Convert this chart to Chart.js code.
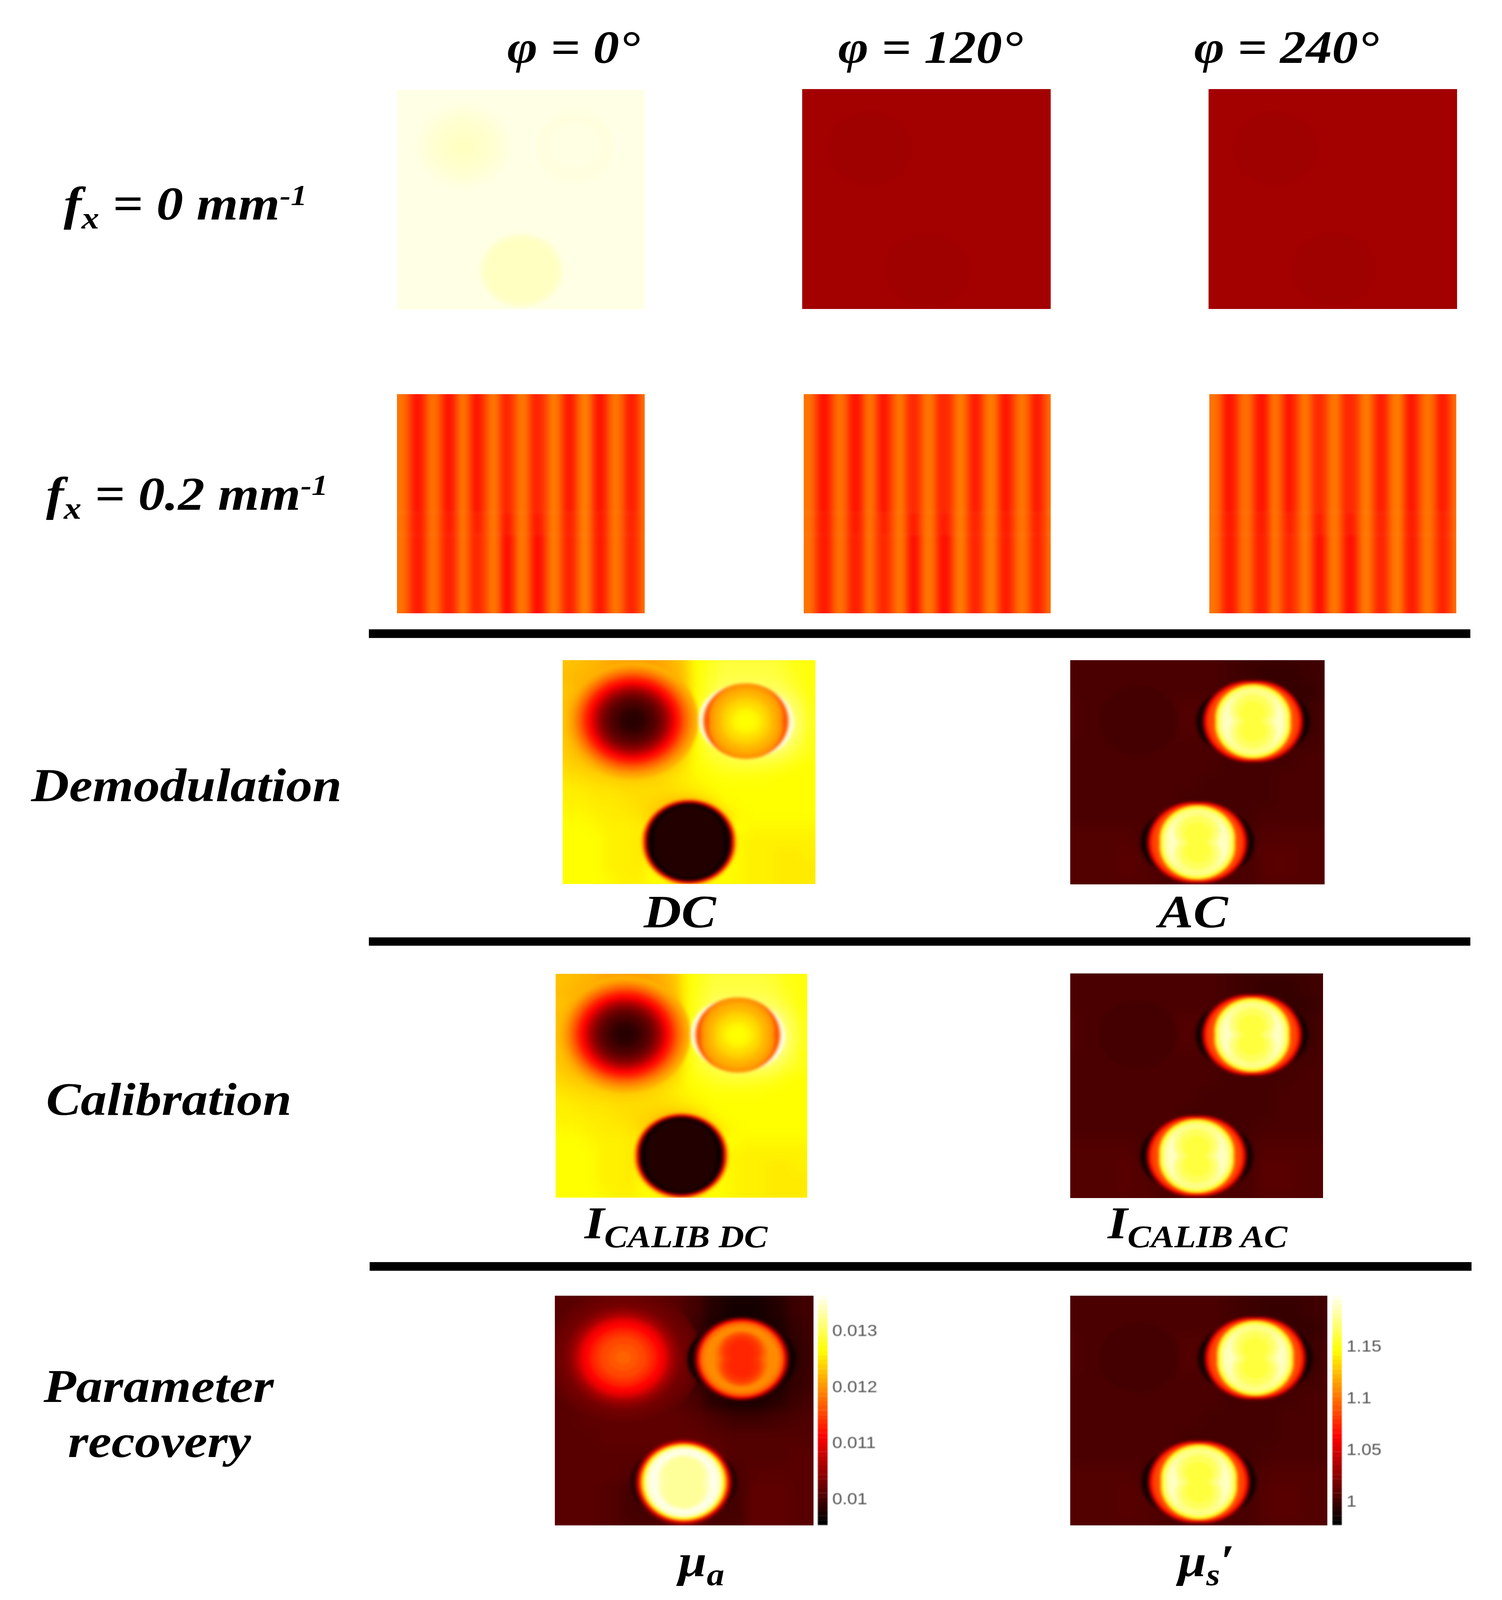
<!DOCTYPE html>
<html>
<head>
<meta charset="utf-8">
<title>SFDI processing steps</title>
<script src="https://cdn.jsdelivr.net/npm/chart.js@4"></script>
<style>
  html, body { margin: 0; background: #fff; overflow: hidden; }
  #page { position: relative; width: 3844px; height: 4612px; overflow: hidden; background: #fff; transform-origin: 0 0; }
  .panel { position: absolute; overflow: hidden; }
  .panel canvas, .bar canvas { position: absolute; }
  .bar { position: absolute; }
  .rule { position: absolute; background: #000; }
  .lab { position: absolute; line-height: 0; white-space: nowrap; color: #000;
         font-family: "Liberation Serif", serif; font-weight: bold; font-style: italic; }
  .lab span { position: relative; }
</style>
</head>
<body>
<div id="page"></div>
<script>
// ── Values. Levels are 0-100 along the hot colormap ──

// Fringe images: one level per column, upper, middle and lower part of the image
const fringeUpper = [52,53,55,54,51,46,41,40,43,48,53,54,52,47,42,40,42,48,54,54,50,44,40,42,46,51,55,54,49,44,43,45,49,54,55,53,47,43,43,44,48,53,56,54,49,43,41,43,49,54,56,54,48,42,40,43,48,53,55,53,49,43,41,43,48,53,55,55];
const fringeMiddle = [52,53,55,54,51,46,42,41,43,48,53,54,52,47,43,41,43,48,54,54,50,45,42,43,47,51,55,54,49,43,41,44,49,54,55,53,47,42,41,43,48,53,56,54,49,44,42,44,49,54,56,54,48,43,41,43,48,53,55,53,49,44,42,44,48,53,55,55];
const fringeLower = [52,53,55,54,51,46,42,41,43,48,53,54,52,47,43,42,43,48,54,54,50,45,43,44,47,51,55,54,49,42,39,42,48,54,55,53,47,41,39,41,47,53,56,54,49,44,42,44,49,54,56,54,48,43,41,43,48,53,55,53,49,44,42,44,48,53,55,55];

// Background fields behind the discs, one row per list
const dcField = [
  [66,66,65,64,63,62,62,62,63,67,75,78,80,80,80,80,79,77,76,76],
  [66,66,65,64,62,61,61,61,63,66,75,78,81,81,81,81,80,77,76,76],
  [66,65,64,63,60,58,58,60,62,65,75,79,82,82,82,82,81,78,76,76],
  [67,66,64,60,56,54,54,56,58,63,75,80,85,85,85,85,84,80,76,76],
  [67,65,62,58,52,50,50,52,56,62,75,82,88,85,85,85,90,84,77,76],
  [68,65,62,56,50,50,50,50,55,62,76,85,88,85,85,85,90,86,78,76],
  [68,65,62,56,50,50,50,50,55,62,76,85,88,85,85,85,90,87,78,76],
  [68,66,62,58,52,50,50,52,56,63,75,82,86,85,85,85,90,84,77,76],
  [69,67,64,60,56,54,54,56,60,66,75,80,82,84,85,86,84,80,77,76],
  [70,69,67,65,63,62,62,63,66,70,75,77,79,80,80,79,78,76,75,75],
  [72,71,70,69,68,67,67,68,70,72,74,75,76,76,76,76,75,75,75,75],
  [73,73,72,71,71,70,70,70,70,71,72,74,75,75,75,75,75,75,75,75],
  [74,73,73,72,72,71,70,69,67,65,66,70,74,75,75,75,75,75,75,75],
  [75,74,74,73,72,72,71,68,62,58,58,62,70,74,75,75,75,75,75,75],
  [75,75,75,74,73,73,72,76,70,62,62,70,76,75,74,74,74,74,74,74],
  [75,75,75,75,73,73,72,76,72,64,64,72,76,74,73,73,73,73,73,73],
  [75,75,75,75,73,73,72,76,72,64,64,72,76,74,73,73,72,72,73,73],
  [75,75,75,75,73,73,72,76,72,64,64,72,76,74,73,73,72,72,72,72],
  [75,75,75,75,74,73,73,75,74,66,66,74,75,74,73,73,72,72,72,72],
  [75,75,75,75,74,73,73,75,74,66,66,74,75,74,73,73,72,72,72,72],
];
const acField = [
  [11,11,11,11,11,11,11,11,10,9,9,9,9,10],
  [11,11,11,11,11,11,11,11,10,9,8,8,9,10],
  [11,11,11,11,11,11,11,11,10,9,9,8,8,10],
  [12,11,11,11,11,11,12,12,10,11,11,9,9,11],
  [12,11,11,11,11,11,12,12,10,11,11,9,9,11],
  [11,11,11,11,11,11,11,11,10,10,10,10,10,11],
  [11,11,11,11,11,11,11,11,10,10,10,10,11,11],
  [11,11,11,11,11,11,11,10,10,10,10,11,11,11],
  [11,11,11,11,11,11,10,10,10,10,10,11,11,11],
  [11,11,11,11,11,11,10,10,10,10,11,11,11,11],
  [12,12,12,12,11,11,11,11,11,11,12,12,12,12],
  [12,12,12,13,12,11,11,11,11,11,13,13,12,12],
  [12,12,12,13,12,11,11,11,11,11,13,13,12,12],
  [12,12,12,12,12,11,11,11,11,11,12,12,12,12],
];
const muaField = [
  [13,13,14,14,14,14,13,10,6,4,4,6,9,10],
  [13,13,14,14,14,14,13,10,5,3,3,5,9,10],
  [13,13,14,14,14,14,13,9,4,3,3,4,8,10],
  [13,13,14,14,14,14,13,8,4,3,3,4,7,10],
  [13,13,14,14,14,14,13,8,4,3,3,4,7,10],
  [13,13,14,14,14,14,13,9,4,3,3,4,8,10],
  [13,13,14,14,14,14,13,11,6,4,4,6,9,11],
  [13,13,14,14,14,14,14,13,11,9,9,10,11,12],
  [13,13,13,14,14,14,14,14,13,12,12,12,12,12],
  [13,13,13,13,13,13,14,15,14,12,12,12,13,13],
  [13,13,13,13,12,11,13,13,11,11,13,13,13,13],
  [13,13,13,12,10,10,13,13,10,10,14,14,13,13],
  [13,13,13,12,10,10,13,13,10,10,14,14,13,13],
  [13,13,13,12,11,11,13,13,11,11,14,14,13,13],
];
const paleField = [
  [97.5,97.5,97.5,97.5],
  [97.5,97.5,97.5,97.5],
  [97.5,97.5,97.5,97.5],
  [97.5,97.5,97.5,97.5],
];
const darkField = [
  [24,24,24,24],
  [24,24,24,24],
  [24,24,24,24],
  [24,24,24,24],
];

// Disc centres in percent of the image, rings as [radius, stretchX, stretchY, level]
const dcCentreX = [27.7, 72.5, 50];
const dcCentreY = [27, 27.3, 81.3];
const dcRingsA = [[26,0,0,64],[25,0,0,62],[24,0,0,60],[23,0,0,57],[22,0,0,54],[21,0,0,51],[20,0,0,47],[19,0,0,43],[18,0,0,40],[17,0,0,37],[16,0,0,32],[15,0,0,28],[14,0,0,24],[13,0,0,21],[12,0,0,18],[11,0,0,16],[10,0,0,14],[9,0,0,12],[8,0,0,11],[6.5,0,0,9],[5,0,0,7],[3,0,0,6]];
const dcRingsB = [[15,3.8,0.5,97],[16.8,0,0,50],[14.5,0,2.1,60],[12.5,0,2,63],[11,0,1.5,65],[9.5,0,1,68],[8,0,0.5,70],[6.5,0,0,72],[5,0,0,74],[3,0,0,75]];
const dcRingsC = [[19,0,0.5,68],[18.4,0,0.6,58],[18,0,0.7,48],[17.6,0,0.7,38],[17.2,0,0.7,28],[16.8,0,0.8,18],[16.4,0,0.8,8],[16,0,0.8,1],[14,0,2,5]];

const acCentreX = [26.6, 71.9, 50];
const acCentreY = [27, 27.3, 81.3];
const acRingsFaint = [[15.5,0,0,10]];
const acRingsBright = [[14.5,8,0,7],[14,8,0,2],[18.4,1.6,0,10],[18.2,1.6,0,18],[17.9,1.5,0,28],[17.5,1.4,0,38],[17.1,1.2,0,44],[16.7,0.9,0,48],[15,0,1.6,60],[14.8,0,1.6,72],[14.5,0,1.5,80],[14,0,1.2,84],[13,0,1.5,90],[12,0,1,94],[9,0,5,88],[7,0,5,84],[5,0,4,81]];

const muaCentreX = [26.5, 72.3, 49.9];
const muaCentreY = [27, 27.6, 81.4];
const muaRingsA = [[30,0,0,14],[28,0,0,15],[26,0,0,16],[24,0,0,17],[22,0,0,20],[20,0,0,24],[18,0,0,30],[16.5,0,0,35],[15,0,0,38],[13,0,0,42],[11,0,0,45],[9,0,0,48],[6,0,0,50],[3,0,0,52]];
const muaRingsB = [[14,7,0,2],[18.2,0.4,0,12],[17.6,0.2,0,25],[17.1,0,0,38],[16.4,0,0,48],[15.8,0,0,54],[14.5,0,0,58],[12,0,1.5,58],[10,0,2,54],[8.5,0,3,49],[7,0,3,45],[5,0,3,43]];
const muaRingsC = [[14,6.5,0,5],[18.6,0,0,22],[18,0,0,30],[17.5,0,0,38],[17,0,0,50],[16.5,0,0.3,62],[16,0,0.3,72],[15.5,0,0.5,80],[15,0,0.5,88],[14.3,0,0.7,96],[12.5,0,1,98],[10,0,2,93],[8,0,3,90]];

const paleCentreX = [27, 72, 50.3];
const paleCentreY = [25.6, 25.8, 82.3];
const paleRingsA = [[19,0,0,97],[17,0,0,96.5],[15,0,0,96],[13,0,0,95.5],[10,0,0,95],[7,0,0,94.5],[4,0,0,94]];
const paleRingsB = [[15,2.5,0,98.5],[16.5,0,0,97],[10,0,0,97.3]];
const paleRingsC = [[17,0,0,96.5],[16.4,0,0,95.5],[15.6,0,0,94.5],[14,0,0,94]];

const darkCentreX = [27, 72, 50.3];
const darkCentreY = [27, 27, 82];
const darkRingsSoft = [[16,0,0,23.4]];
const darkRingsNone = [];

// Colourbars
const muaTicks = [0.01, 0.011, 0.012, 0.013];
const muaRange = [0.00955, 0.01364];
const musTicks = [1, 1.05, 1.1, 1.15];
const musRange = [0.978, 1.1997];
const barLevels = [0,2,4,6,8,10,12,14,16,18,20,22,24,26,28,30,32,34,36,38,40,42,44,46,48,50,52,54,56,58,60,62,64,66,68,70,72,74,76,78,80,82,84,86,88,90,92,94,96,98,100];

// ── Layout ─────────────────────────────────────────────────────────────
const MARGIN = 6;  // the canvases run this many percent past each image edge

const fringePanels = [
  { x: 1016, y: 1137, w: 634, h: 630 },
  { x: 2057, y: 1137, w: 632, h: 630 },
  { x: 3095, y: 1137, w: 632, h: 630 },
];
const discPanels = [
  { x: 1016, y: 260, w: 634, h: 631, field: paleField, cx: paleCentreX, cy: paleCentreY, rings: [paleRingsA, paleRingsB, paleRingsC] },
  { x: 2053, y: 257, w: 636, h: 633, field: darkField, cx: darkCentreX, cy: darkCentreY, rings: [darkRingsSoft, darkRingsNone, darkRingsSoft] },
  { x: 3093, y: 257, w: 636, h: 633, field: darkField, cx: darkCentreX, cy: darkCentreY, rings: [darkRingsSoft, darkRingsNone, darkRingsSoft] },
  { x: 1440, y: 1903, w: 647, h: 645, field: dcField, cx: dcCentreX, cy: dcCentreY, rings: [dcRingsA, dcRingsB, dcRingsC] },
  { x: 2739, y: 1903, w: 651, h: 646, field: acField, cx: acCentreX, cy: acCentreY, rings: [acRingsFaint, acRingsBright, acRingsBright] },
  { x: 1422, y: 2808, w: 644, h: 644, field: dcField, cx: dcCentreX, cy: dcCentreY, rings: [dcRingsA, dcRingsB, dcRingsC] },
  { x: 2739, y: 2807, w: 647, h: 646, field: acField, cx: acCentreX, cy: acCentreY, rings: [acRingsFaint, acRingsBright, acRingsBright] },
  { x: 1420, y: 3735, w: 662, h: 661, field: muaField, cx: muaCentreX, cy: muaCentreY, rings: [muaRingsA, muaRingsB, muaRingsC] },
  { x: 2739, y: 3735, w: 658, h: 661, field: acField, cx: acCentreX, cy: acCentreY, rings: [acRingsFaint, acRingsBright, acRingsBright] },
];
const colourBars = [
  { x: 2093, y: 3735, w: 25, h: 661, ticks: muaTicks, range: muaRange },
  { x: 3410, y: 3735, w: 24, h: 661, ticks: musTicks, range: musRange },
];
const rules = [
  { x: 944, y: 1814, w: 2819, h: 25 },
  { x: 944, y: 2702, w: 2819, h: 24 },
  { x: 946, y: 3638, w: 2820, h: 25 },
];

const SUB = (t, s) => `<span style="font-size:${s}px;top:26px">${t}</span>`;
const SUP = (t, s) => `<span style="font-size:${s}px;top:-42px">${t}</span>`;

// [html, x, baseline, size, anchor]
const labels = [
  ['φ = 0°', 1298, 181, 133, 'l'],
  ['φ = 120°', 2145, 181, 133, 'l'],
  ['φ = 240°', 3056, 181, 133, 'l'],
  [`f${SUB('x', 90)} = 0 mm${SUP('-1', 84)}`, 163, 633, 137, 'l'],
  [`f${SUB('x', 90)} = 0.2 mm${SUP('-1', 84)}`, 118, 1469, 136, 'l'],
  ['Demodulation', 477, 2310, 135, 'c'],
  ['DC', 1740, 2673, 133, 'c'],
  ['AC', 3054, 2673, 133, 'c'],
  ['Calibration', 432, 3213, 133, 'c'],
  [`I${SUB('CALIB DC', 90)}`, 1496, 3569, 130, 'l'],
  [`I${SUB('CALIB AC', 90)}`, 2835, 3569, 130, 'l'],
  ['Parameter', 406, 4041, 136, 'c'],
  ['recovery', 408, 4200, 134, 'c'],
  [`μ${SUB('a', 90)}`, 1795, 4543, 130, 'c'],
  [`μ${SUB('s', 90)}′`, 3087, 4543, 130, 'c'],
];

// ── Helpers ────────────────────────────────────────────────────────────
const page = document.getElementById('page');

// The browser can hand us a shorter window than asked for, keep the whole figure in view
if (window.innerHeight < 4612) {
  page.style.transform = `scale(${window.innerWidth / 3844}, ${window.innerHeight / 4612})`;
}

// MATLAB style "hot" colormap
function hot(level) {
  const l = level / 100;
  const r = Math.min(1, l / 0.375);
  const g = Math.max(0, Math.min(1, (l - 0.375) / 0.375));
  const b = Math.max(0, Math.min(1, (l - 0.75) / 0.25));
  return `rgb(${Math.round(r * 255)},${Math.round(g * 255)},${Math.round(b * 255)})`;
}

function addDiv(cls, box) {
  const el = document.createElement('div');
  el.className = cls;
  el.style.cssText = `left:${box.x}px;top:${box.y}px;width:${box.w}px;height:${box.h}px`;
  page.appendChild(el);
  return el;
}

function addCanvas(parent, left, top, w, h, blur) {
  const c = document.createElement('canvas');
  c.width = w;
  c.height = h;
  c.style.cssText = `left:${left}px;top:${top}px;width:${w}px;height:${h}px;filter:blur(${blur}px)`;
  parent.appendChild(c);
  return c;
}

const hiddenScale = (reverse) => ({ type: 'linear', min: -MARGIN, max: 100 + MARGIN, display: false, reverse });

const baseOptions = {
  responsive: false,
  animation: false,
  devicePixelRatio: 1,
  events: [],
  layout: { padding: 0 },
  plugins: { legend: { display: false }, tooltip: { enabled: false } },
};

function fieldPoints(field) {
  const n = field.length, span = 100 + 2 * MARGIN, step = span / n, pts = [];
  field.forEach((row, j) => row.forEach((v, i) => {
    pts.push({ x: -MARGIN + (i + 0.5) * step, y: -MARGIN + (j + 0.5) * step, v, r: step });
  }));
  return pts;
}

function ringPoints(panel) {
  const pts = [];
  panel.rings.forEach((set, d) => set.forEach(([r, sx, sy, v]) => {
    pts.push({ x: panel.cx[d] - sx, y: panel.cy[d] - sy, v, r });
    if (sx || sy) pts.push({ x: panel.cx[d] + sx, y: panel.cy[d] + sy, v, r });
  }));
  return pts;
}

const spanPx = (c) => {
  if (!c.raw) return 0;
  const s = c.chart.scales.x;
  return s.getPixelForValue(c.raw.r) - s.getPixelForValue(0);
};

function scatterLayer(canvas, points, isField) {
  return new Chart(canvas, {
    type: 'scatter',
    data: {
      datasets: [{
        data: points,
        showLine: false,
        pointStyle: isField ? 'rect' : 'circle',
        pointBorderWidth: 0,
        pointBackgroundColor: (c) => (c.raw ? hot(c.raw.v) : '#000'),
        pointRadius: (c) => (isField ? spanPx(c) * Math.SQRT1_2 + 1 : spanPx(c)),
      }],
    },
    options: { ...baseOptions, scales: { x: hiddenScale(false), y: hiddenScale(true) } },
  });
}

function drawDiscPanel(p) {
  const box = addDiv('panel', p);
  const cw = Math.round(p.w * (100 + 2 * MARGIN) / 100);
  const ch = Math.round(p.h * (100 + 2 * MARGIN) / 100);
  const left = -p.w * MARGIN / 100, top = -p.h * MARGIN / 100;
  scatterLayer(addCanvas(box, left, top, cw, ch, p.field.length >= 14 ? 15 : 6), fieldPoints(p.field), true);
  scatterLayer(addCanvas(box, left, top, cw, ch, 4), ringPoints(p), false);
}

function drawFringePanel(p) {
  const box = addDiv('panel', p);
  const cols = fringeUpper.length, inner = cols - 4;  // two spare columns each side
  const cw = Math.round(p.w * cols / inner);
  const ch = Math.round(p.h * (100 + 2 * MARGIN) / 100);
  const canvas = addCanvas(box, -p.w * 2 / inner, -p.h * MARGIN / 100, cw, ch, 5);
  const part = (levels, from, to) => ({
    data: levels.map(() => [from, to]),
    backgroundColor: levels.map(hot),
    borderColor: levels.map(hot),
    borderWidth: 1,
    grouped: false,
    barPercentage: 1,
    categoryPercentage: 1,
  });
  new Chart(canvas, {
    type: 'bar',
    data: {
      labels: fringeUpper.map((_, i) => i),
      datasets: [
        part(fringeUpper, -MARGIN, 54),
        part(fringeMiddle, 54, 64),
        part(fringeLower, 64, 100 + MARGIN),
      ],
    },
    options: {
      ...baseOptions,
      scales: { x: { type: 'category', display: false }, y: hiddenScale(true) },
    },
  });
}

function drawColourBar(b) {
  const AXIS_W = 180;
  const box = addDiv('bar', { x: b.x, y: b.y, w: b.w + AXIS_W, h: b.h });
  const canvas = addCanvas(box, 0, 0, b.w + AXIS_W, b.h, 1.2);
  const [lo, hi] = b.range;
  const at = (l) => lo + (hi - lo) * l / 100;
  new Chart(canvas, {
    type: 'bar',
    data: {
      labels: ['bar'],
      datasets: barLevels.slice(0, -1).map((l, i) => ({
        data: [[at(l), at(barLevels[i + 1])]],
        backgroundColor: hot(l),
        borderColor: hot(l),
        borderWidth: 1,
        grouped: false,
        barPercentage: 1,
        categoryPercentage: 1,
      })),
    },
    options: {
      ...baseOptions,
      scales: {
        x: { type: 'category', display: false },
        y: {
          type: 'linear',
          position: 'right',
          min: lo,
          max: hi,
          afterBuildTicks: (axis) => { axis.ticks = b.ticks.map((value) => ({ value })); },
          afterFit: (axis) => {
            axis.width = AXIS_W;
            // bar runs the full height of the image
            axis.paddingTop = 0;
            axis.paddingBottom = 0;
          },
          grid: { drawOnChartArea: false, drawTicks: false },
          border: { display: false },
          ticks: {
            padding: 12,
            color: '#555',
            font: { family: '"Liberation Sans", Arial, sans-serif', size: 46 },
            callback: (v) => String(v),
          },
        },
      },
    },
  });
}

function drawLabel([html, x, baseline, size, anchor]) {
  const el = document.createElement('div');
  el.className = 'lab';
  el.innerHTML = html;
  const shift = anchor === 'c' ? 'transform:translateX(-50%);' : '';
  el.style.cssText = `left:${x}px;top:${Math.round(baseline - 0.3375 * size)}px;font-size:${size}px;${shift}`;
  page.appendChild(el);
}

// ── Build the figure ───────────────────────────────────────────────────
discPanels.forEach(drawDiscPanel);
fringePanels.forEach(drawFringePanel);
colourBars.forEach(drawColourBar);
rules.forEach((r) => addDiv('rule', r));
labels.forEach(drawLabel);
</script>
</body>
</html>
